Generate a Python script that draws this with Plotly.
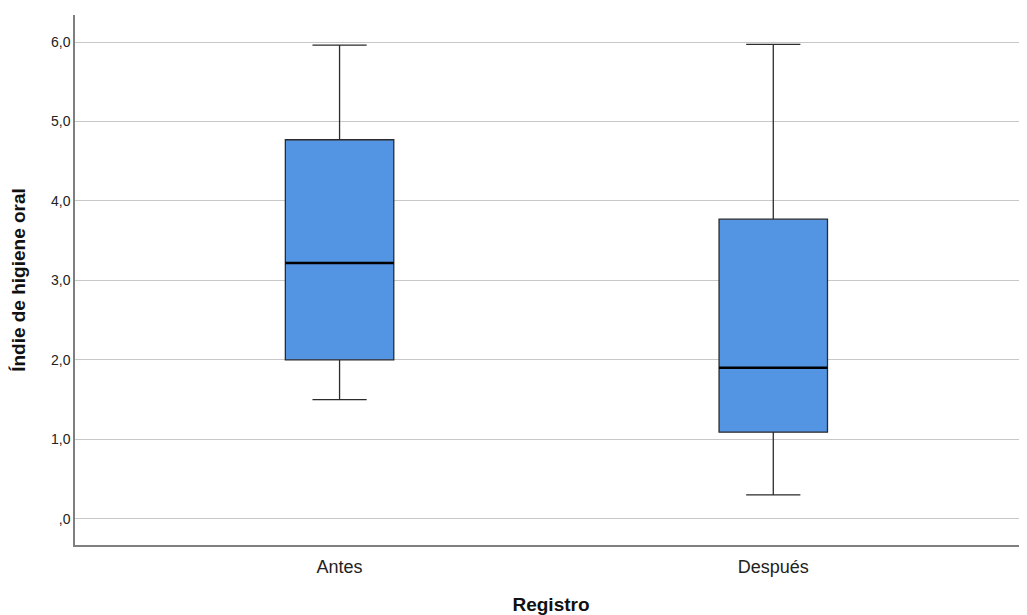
import plotly.graph_objects as go

categories = ["Antes", "Después"]
lower_whisker = [1.50, 0.30]
q1_values = [2.00, 1.09]
median_values = [3.22, 1.90]
q3_values = [4.77, 3.77]
upper_whisker = [5.96, 5.97]

tick_vals = [0, 1, 2, 3, 4, 5, 6]
tick_text = [",0", "1,0", "2,0", "3,0", "4,0", "5,0", "6,0"]

box_width = 0.25
positions = list(range(len(categories)))

fig = go.Figure()
fig.add_trace(go.Box(
    x=positions,
    q1=q1_values,
    median=median_values,
    q3=q3_values,
    lowerfence=lower_whisker,
    upperfence=upper_whisker,
    width=box_width,
    whiskerwidth=0.5,
    fillcolor="#5495E3",
    line=dict(color="#2b2b2b", width=1.3),
    boxpoints=False,
    showlegend=False,
    hoverinfo="skip",
))
for p, m in zip(positions, median_values):
    fig.add_trace(go.Scatter(
        x=[p - box_width / 2, p + box_width / 2], y=[m, m],
        mode="lines", line=dict(color="#000000", width=2.5),
        showlegend=False, hoverinfo="skip",
    ))

fig.update_layout(
    width=1019, height=607,
    margin=dict(l=67, r=0, t=7, b=70, autoexpand=False),
    paper_bgcolor="white", plot_bgcolor="white",
    font=dict(family="Liberation Sans, Arial, sans-serif", color="#222222"),
)
fig.update_xaxes(
    range=[-0.61, 1.585],
    tickvals=positions, ticktext=categories,
    tickfont=dict(size=18, color="#222222"),
    ticklabelstandoff=5,
    showgrid=False, zeroline=False,
    showline=True, linecolor="#7f7f7f", linewidth=1.5,
    ticks="", ticklen=0, automargin=False,
    title=dict(text="<b>Registro</b>", font=dict(size=19, color="#111111"), standoff=24),
)
fig.update_yaxes(
    range=[-0.33, 6.34],
    tickvals=tick_vals, ticktext=tick_text,
    tickfont=dict(size=14, color="#222222"),
    showgrid=True, gridcolor="#c8c8c8", gridwidth=1.3,
    zeroline=False,
    showline=True, linecolor="#7f7f7f", linewidth=1.5,
    ticks="", ticklen=0, automargin=False,
    title=dict(text="<b>Índie de higiene oral</b>", font=dict(size=19, color="#111111"), standoff=20),
)
fig.write_html("out.html")
